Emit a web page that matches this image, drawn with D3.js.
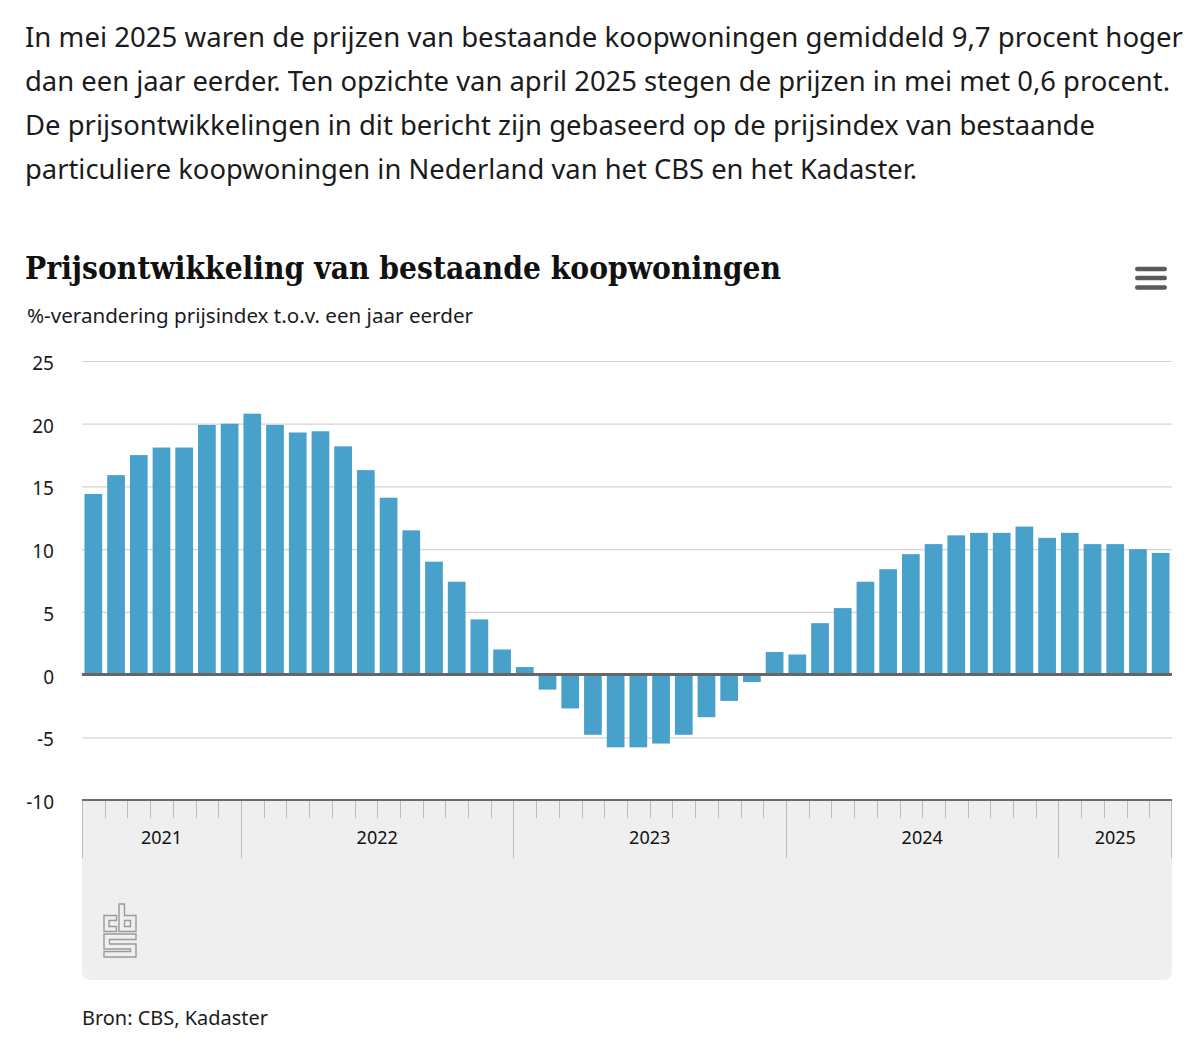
<!DOCTYPE html>
<html><head><meta charset="utf-8">
<script src="https://cdn.jsdelivr.net/npm/d3@7"></script>
<style>
html,body{margin:0;padding:0;background:#fff;}
svg{display:block;}
</style></head>
<body>
<script>
// ---- data ----
const months = [
 "2021-06","2021-07","2021-08","2021-09","2021-10","2021-11","2021-12",
 "2022-01","2022-02","2022-03","2022-04","2022-05","2022-06","2022-07","2022-08","2022-09","2022-10","2022-11","2022-12",
 "2023-01","2023-02","2023-03","2023-04","2023-05","2023-06","2023-07","2023-08","2023-09","2023-10","2023-11","2023-12",
 "2024-01","2024-02","2024-03","2024-04","2024-05","2024-06","2024-07","2024-08","2024-09","2024-10","2024-11","2024-12",
 "2025-01","2025-02","2025-03","2025-04","2025-05"];
const values = [
 14.4,15.9,17.5,18.1,18.1,19.9,20.0,
 20.8,19.9,19.3,19.4,18.2,16.3,14.1,11.5,9.0,7.4,4.4,2.0,
 0.6,-1.2,-2.7,-4.8,-5.8,-5.8,-5.5,-4.8,-3.4,-2.1,-0.6,1.8,
 1.6,4.1,5.3,7.4,8.4,9.6,10.4,11.1,11.3,11.3,11.8,10.9,
 11.3,10.4,10.4,10.0,9.7];
const years = ["2021","2022","2023","2024","2025"];
const yTicks = [-10,-5,0,5,10,15,20,25];
const paragraph = [
 "In mei 2025 waren de prijzen van bestaande koopwoningen gemiddeld 9,7 procent hoger",
 "dan een jaar eerder. Ten opzichte van april 2025 stegen de prijzen in mei met 0,6 procent.",
 "De prijsontwikkelingen in dit bericht zijn gebaseerd op de prijsindex van bestaande",
 "particuliere koopwoningen in Nederland van het CBS en het Kadaster."];
const paragraphWidths = [1158,1145,1070,892];
const title = "Prijsontwikkeling van bestaande koopwoningen";
const subtitle = "%-verandering prijsindex t.o.v. een jaar eerder";
const source = "Bron: CBS, Kadaster";

// ---- layout ----
const W = 1200, H = 1043;
const L = 82, R = 1172, T = 361, B = 800;
const sans = "'Noto Sans', 'Open Sans', sans-serif";

const svg = d3.select("body").append("svg").attr("width", W).attr("height", H);
svg.append("rect").attr("width", W).attr("height", H).attr("fill", "#fff");

// paragraph
paragraph.forEach((line, i) => {
  svg.append("text").attr("x", 25).attr("y", 47 + i * 44)
    .attr("font-family", sans).attr("font-size", 27).attr("fill", "#1b1b1b")
    .attr("textLength", paragraphWidths[i]).attr("lengthAdjust", "spacingAndGlyphs")
    .text(line);
});

// title
svg.append("text").attr("x", 25).attr("y", 279)
  .attr("font-family", "'DejaVu Serif', serif").attr("font-weight", "bold")
  .attr("font-size", 31).attr("fill", "#111")
  .attr("textLength", 756).attr("lengthAdjust", "spacingAndGlyphs")
  .text(title);
svg.append("text").attr("x", 27).attr("y", 323)
  .attr("font-family", sans).attr("font-size", 20).attr("fill", "#1b1b1b")
  .attr("textLength", 446).attr("lengthAdjust", "spacingAndGlyphs")
  .text(subtitle);

// hamburger
[269, 278, 287.5].forEach(yy => {
  svg.append("rect").attr("x", 1135).attr("y", yy - 2.2).attr("width", 32).attr("height", 4.4)
    .attr("rx", 2.2).attr("fill", "#5a5a5a");
});

// scales
const x = d3.scaleBand().domain(months).range([L, R]).paddingInner(0.22).paddingOuter(0.11);
const y = d3.scaleLinear().domain([-10, 25]).range([B, T]);
const step = x.step();
const edge = m => x(m) - step * 0.11; // left boundary of month slot

// bottom panel
const panelBottom = 980, rad = 9;
svg.append("path")
  .attr("d", `M${L},${B} H${R} V${panelBottom - rad} Q${R},${panelBottom} ${R - rad},${panelBottom} H${L + rad} Q${L},${panelBottom} ${L},${panelBottom - rad} Z`)
  .attr("fill", "#efefef");

// grid + y labels
const yAxis = d3.axisLeft(y).tickValues(yTicks).tickSize(-(R - L)).tickPadding(28).tickFormat(d => String(d));
const gy = svg.append("g").attr("transform", `translate(${L},0)`).call(yAxis);
gy.select(".domain").remove();
gy.selectAll(".tick line").attr("stroke", d => (d === -10 || d === 0) ? "none" : "#d3d3d3").attr("stroke-width", 1.2);
gy.selectAll(".tick text").attr("font-family", sans).attr("font-size", 19).attr("fill", "#1b1b1b").attr("dy", "0.45em");

// bars
svg.append("g").selectAll("rect").data(months).join("rect")
  .attr("x", d => x(d))
  .attr("width", x.bandwidth())
  .attr("y", (d, i) => values[i] >= 0 ? y(values[i]) : y(0))
  .attr("height", (d, i) => Math.abs(y(values[i]) - y(0)))
  .attr("fill", "#48a1cb");

// zero line
svg.append("line").attr("x1", L).attr("x2", R).attr("y1", y(0)).attr("y2", y(0))
  .attr("stroke", "#666").attr("stroke-width", 3);

// x axis line
svg.append("line").attr("x1", L).attr("x2", R).attr("y1", B).attr("y2", B)
  .attr("stroke", "#6b6b6b").attr("stroke-width", 2);

// month ticks
const tickG = svg.append("g");
months.forEach((m, i) => {
  const isYear = m.endsWith("-01") || i === 0;
  const xx = Math.round(edge(m)) + 0.5;
  tickG.append("line").attr("x1", xx).attr("x2", xx).attr("y1", B + 1).attr("y2", isYear ? 858 : 818)
    .attr("stroke", "#bcbcbc").attr("stroke-width", 1);
});
tickG.append("line").attr("x1", R - 0.5).attr("x2", R - 0.5).attr("y1", B + 1).attr("y2", 858)
  .attr("stroke", "#bcbcbc").attr("stroke-width", 1);

// year labels
years.forEach(yr => {
  const ms = months.filter(m => m.startsWith(yr));
  const x0 = edge(ms[0]);
  const x1 = edge(ms[ms.length - 1]) + step;
  svg.append("text").attr("x", (x0 + x1) / 2).attr("y", 844)
    .attr("text-anchor", "middle").attr("font-family", sans).attr("font-size", 18)
    .attr("fill", "#111").text(yr);
});

// CBS logo
const logo = svg.append("g").attr("fill", "none").attr("stroke", "#9a9a9a").attr("stroke-width", 1.4);
logo.append("path").attr("d", "M116.5,915.5 H104 V931.5 H116.5 V926.5 H109 V920.5 H116.5 Z");
logo.append("path").attr("d", "M119,904 H124.5 V915.5 H136 V931.5 H119 Z");
logo.append("path").attr("d", "M124.5,920.5 H130.5 V926.5 H124.5 Z");
logo.append("path").attr("d", "M104,934 H136 V939.5 H109.5 V944 H136 V957 H104 V951.5 H130.5 V949 H104 Z");

// source
svg.append("text").attr("x", 82).attr("y", 1025)
  .attr("font-family", sans).attr("font-size", 20).attr("fill", "#1b1b1b")
  .attr("textLength", 186).attr("lengthAdjust", "spacingAndGlyphs")
  .text(source);
</script>
</body></html>
